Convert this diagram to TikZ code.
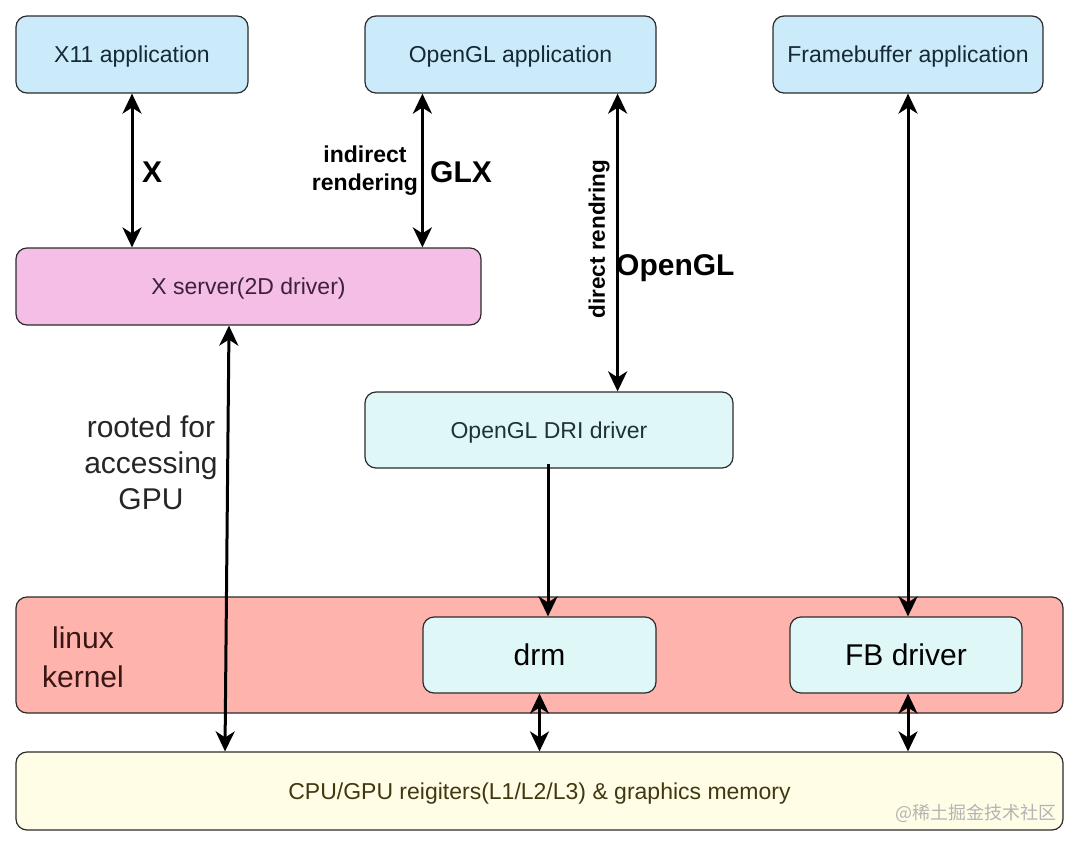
\documentclass[tikz,border=0pt]{standalone}
\usepackage{fontspec}
\setmainfont{Liberation Sans}
\newfontfamily\cjkfont{Noto Sans CJK SC}
\usetikzlibrary{arrows.meta}
\definecolor{appfill}{HTML}{CCEBFA}
\definecolor{apptext}{HTML}{16283A}
\definecolor{xfill}{HTML}{F4BEE6}
\definecolor{xtext}{HTML}{3E203B}
\definecolor{drifill}{HTML}{E0F7F7}
\definecolor{dritext}{HTML}{1E3434}
\definecolor{kfill}{HTML}{FFB3AD}
\definecolor{ktext}{HTML}{3A1616}
\definecolor{memfill}{HTML}{FFFDE6}
\definecolor{memtext}{HTML}{403810}
\definecolor{boxline}{HTML}{2B2B2B}
\definecolor{wmgray}{HTML}{B4B4B4}
\begin{document}
\begin{tikzpicture}[x=1pt,y=-1pt,
  box/.style={draw=boxline, line width=1.2pt, rounded corners=11pt, inner sep=0pt,
    font=\fontsize{23}{27}\selectfont, text depth=0pt},
  bigtxt/.style={font=\fontsize{30}{36}\selectfont, inner sep=0pt, align=center},
  boldlbl/.style={font=\fontsize{30}{36}\selectfont\bfseries, inner sep=0pt},
  smallbold/.style={font=\fontsize{23}{28}\selectfont\bfseries, inner sep=0pt, align=center},
  tipend/.tip={Stealth[length=20pt,width=19pt,inset=6pt]},
  conn/.style={line width=3pt, tipend-tipend},
  conn1/.style={line width=3pt, -tipend}]
\useasboundingbox (0,0) rectangle (1080,847);

% boxes
\node[box, fill=appfill, text=apptext, minimum width=232pt, minimum height=77pt] (x11) at (132,54.5) {X11 application};
\node[box, fill=appfill, text=apptext, minimum width=291pt, minimum height=77pt] (oglapp) at (510.5,54.5) {OpenGL application};
\node[box, fill=appfill, text=apptext, minimum width=270pt, minimum height=77pt] (fbapp) at (908,54.5) {Framebuffer application};
\node[box, fill=xfill, text=xtext, minimum width=465pt, minimum height=77pt] (xsrv) at (248.5,286.5) {X server(2D driver)};
\node[box, fill=drifill, text=dritext, minimum width=368pt, minimum height=76pt] (dri) at (549,430) {OpenGL DRI driver};
\node[box, fill=kfill, minimum width=1047pt, minimum height=116pt] (kernel) at (539.5,655) {};
\node[box, fill=drifill, text=black, font=\fontsize{30}{36}\selectfont, minimum width=233pt, minimum height=76pt] (drm) at (539.5,655) {drm};
\node[box, fill=drifill, text=black, font=\fontsize{30}{36}\selectfont, minimum width=232pt, minimum height=76pt] (fbdrv) at (906,655) {FB driver};
\node[box, fill=memfill, text=memtext, minimum width=1047pt, minimum height=78pt] (cpu) at (539.5,791) {CPU/GPU reigiters(L1/L2/L3) \& graphics memory};

% labels
\node[bigtxt, text=ktext, font=\fontsize{30}{39}\selectfont] (klbl) at (83,657) {linux\\kernel};
\node[bigtxt, text=black!85] (rooted) at (151,463) {rooted for\\accessing\\GPU};
\node[boldlbl, anchor=west] (xlbl) at (142,172) {X};
\node[smallbold] (indir) at (365,171) {indirect\\rendering};
\node[boldlbl, anchor=west] (glx) at (430,172) {GLX};
\node[smallbold, rotate=90, font=\fontsize{22.5}{27}\selectfont\bfseries] (direct) at (599,239) {direct rendring};
\node[boldlbl, anchor=west] (ogl) at (616,268) {OpenGL};
\node[font=\cjkfont\fontsize{18}{21}\selectfont, text=wmgray, inner sep=0pt] (wm) at (976,813) {@稀土掘金技术社区};

% connectors
\draw[conn] (x11.south) -- (x11.south |- xsrv.north);
\draw[conn] ([xshift=58pt]oglapp.south west) -- ([xshift=58pt]oglapp.south west |- xsrv.north);
\draw[conn] ([xshift=-39pt]oglapp.south east) -- ([xshift=-39pt]oglapp.south east |- dri.north);
\draw[conn1] ([xshift=-1pt,yshift=5pt]dri.south) -- ([xshift=-1pt]dri.south |- drm.north);
\draw[conn] (fbapp.south) -- (fbapp.south |- fbdrv.north);
\draw[conn] ([xshift=-19.5pt]xsrv.south) -- ([xshift=-23.5pt]xsrv.south |- cpu.north);
\draw[conn] (drm.south) -- (drm.south |- cpu.north);
\draw[conn] ([xshift=2pt]fbdrv.south) -- ([xshift=2pt]fbdrv.south |- cpu.north);
\end{tikzpicture}
\end{document}
